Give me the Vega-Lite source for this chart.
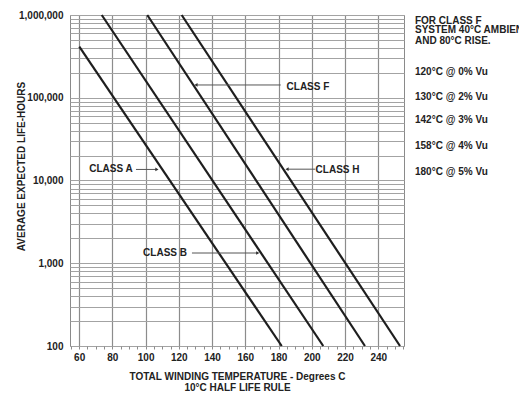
{
  "$schema": "https://vega.github.io/schema/vega-lite/v6.json",
  "width": 334,
  "height": 331,
  "autosize": {"type": "none"},
  "padding": {"left": 70, "top": 15, "right": 115, "bottom": 49},
  "background": "white",
  "config": {
    "view": {"stroke": "#8a8a8a", "strokeWidth": 1},
    "font": "Liberation Sans",
    "axis": {
      "labelFont": "Liberation Sans",
      "labelFontWeight": "bold",
      "labelFontSize": 10,
      "labelColor": "#222",
      "titleFont": "Liberation Sans",
      "titleFontWeight": "bold",
      "titleFontSize": 10,
      "titleColor": "#222",
      "domain": false,
      "labelOverlap": false,
      "labelFlush": false
    }
  },
  "datasets": {
    "lines": [
      {"cls": "CLASS A", "temp": 60.1, "hours": 414000},
      {"cls": "CLASS A", "temp": 181.9, "hours": 100},
      {"cls": "CLASS B", "temp": 73.6, "hours": 1000000},
      {"cls": "CLASS B", "temp": 206.9, "hours": 100},
      {"cls": "CLASS F", "temp": 101.0, "hours": 1000000},
      {"cls": "CLASS F", "temp": 232.0, "hours": 100},
      {"cls": "CLASS H", "temp": 121.7, "hours": 1000000},
      {"cls": "CLASS H", "temp": 253.1, "hours": 100}
    ],
    "labels": [
      {"label": "CLASS A", "temp": 79.2, "hours": 13650},
      {"label": "CLASS B", "temp": 111.7, "hours": 1330},
      {"label": "CLASS F", "temp": 197.7, "hours": 134900},
      {"label": "CLASS H", "temp": 215.5, "hours": 13400}
    ],
    "arrows": [
      {"label": "CLASS A", "temp": 94.2, "temp2": 106.8, "hours": 13600, "dir": "right"},
      {"label": "CLASS B", "temp": 127.9, "temp2": 167.5, "hours": 1330, "dir": "right"},
      {"label": "CLASS F", "temp": 181.3, "temp2": 130.3, "hours": 142700, "dir": "left"},
      {"label": "CLASS H", "temp": 202.1, "temp2": 185.1, "hours": 13700, "dir": "left"}
    ],
    "notes": [
      {"note": "FOR CLASS F", "temp": 262.1, "hours": 858000},
      {"note": "SYSTEM 40°C AMBIENT", "temp": 262.1, "hours": 650000},
      {"note": "AND 80°C RISE.", "temp": 262.1, "hours": 485000},
      {"note": "120°C @ 0% Vu", "temp": 262.1, "hours": 206500},
      {"note": "130°C @ 2% Vu", "temp": 262.1, "hours": 103000},
      {"note": "142°C @ 3% Vu", "temp": 262.1, "hours": 53800},
      {"note": "158°C @ 4% Vu", "temp": 262.1, "hours": 26300},
      {"note": "180°C @ 5% Vu", "temp": 262.1, "hours": 12800}
    ]
  },
  "encoding": {
    "x": {
      "field": "temp",
      "type": "quantitative",
      "scale": {"domain": [54.5, 255.5], "nice": false, "zero": false},
      "axis": {
        "values": [55,60,65,70,75,80,85,90,95,100,105,110,115,120,125,130,135,140,145,150,155,160,165,170,175,180,185,190,195,200,205,210,215,220,225,230,235,240,245,250,255],
        "labelExpr": "datum.value % 20 === 0 ? datum.label : ''",
        "grid": true,
        "gridColor": "#8c8c8c",
        "gridWidth": 1.2,
        "gridOpacity": {"condition": {"test": "datum.value % 20 === 0", "value": 1}, "value": 0},
        "ticks": true,
        "tickSize": 3,
        "tickColor": "#8c8c8c",
        "labelPadding": 3,
        "title": ["TOTAL WINDING TEMPERATURE - Degrees C", "10°C HALF LIFE RULE"],
        "titlePadding": 9,
        "titleLineHeight": 11.5
      }
    },
    "y": {
      "field": "hours",
      "type": "quantitative",
      "scale": {"type": "log", "domain": [100, 1000000], "nice": false},
      "axis": {
        "values": [100,200,300,400,500,600,700,800,900,1000,2000,3000,4000,5000,6000,7000,8000,9000,10000,20000,30000,40000,50000,60000,70000,80000,90000,100000,200000,300000,400000,500000,600000,700000,800000,900000,1000000],
        "format": ",",
        "labelExpr": "indexof([100,1000,10000,100000,1000000], datum.value) >= 0 ? datum.label : ''",
        "grid": true,
        "gridColor": "#a3a3a3",
        "gridWidth": 1,
        "ticks": false,
        "labelPadding": 7,
        "title": "AVERAGE EXPECTED LIFE-HOURS",
        "titleX": -46,
        "titleY": 151,
        "titleBaseline": "alphabetic"
      }
    }
  },
  "layer": [
    {
      "data": {"name": "lines"},
      "mark": {"type": "line", "color": "#1e1e1e", "strokeWidth": 2.2},
      "encoding": {"detail": {"field": "cls"}}
    },
    {
      "data": {"name": "arrows"},
      "mark": {"type": "rule", "color": "#555", "strokeWidth": 1},
      "encoding": {"x2": {"field": "temp2"}}
    },
    {
      "data": {"name": "arrows"},
      "mark": {"type": "point", "filled": true, "color": "#333", "size": 14, "opacity": 1},
      "encoding": {
        "x": {"field": "temp2", "type": "quantitative"},
        "shape": {"field": "dir", "type": "nominal", "scale": {"domain": ["right", "left"], "range": ["triangle-right", "triangle-left"]}, "legend": null}
      }
    },
    {
      "data": {"name": "labels"},
      "mark": {"type": "text", "font": "Liberation Sans", "fontWeight": "bold", "fontSize": 10, "color": "#222", "align": "center", "baseline": "middle"},
      "encoding": {"text": {"field": "label"}}
    },
    {
      "data": {"name": "notes"},
      "mark": {"type": "text", "font": "Liberation Sans", "fontWeight": "bold", "fontSize": 10, "color": "#222", "align": "left", "baseline": "middle"},
      "encoding": {"text": {"field": "note"}}
    }
  ]
}
